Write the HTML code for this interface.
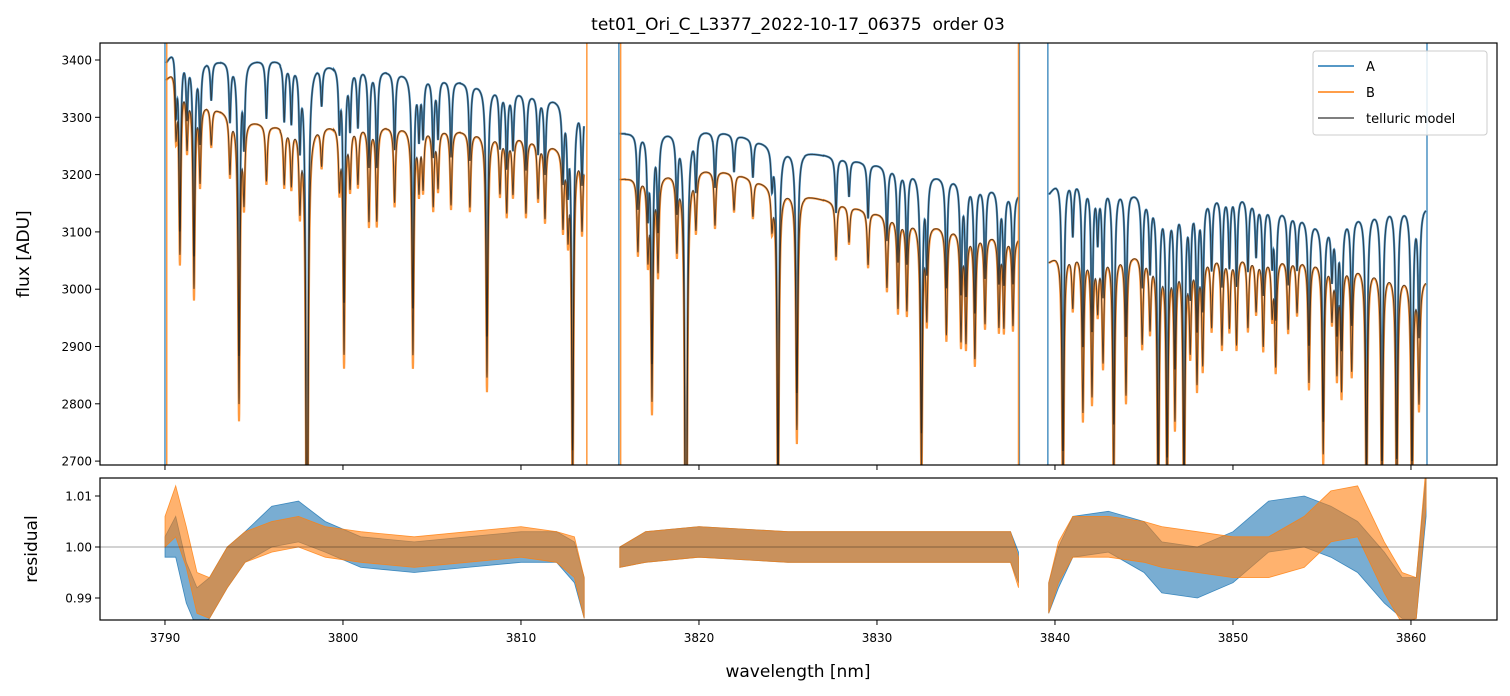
<!DOCTYPE html>
<html><head><meta charset="utf-8"><style>
html,body{margin:0;padding:0;background:#fff;width:1510px;height:696px;overflow:hidden}
svg{display:block;font-family:"DejaVu Sans","Liberation Sans",sans-serif}
</style></head><body>
<svg id="chart" width="1510" height="696" viewBox="0 0 1510 696" xmlns="http://www.w3.org/2000/svg">
<defs>
<clipPath id="cTop"><rect x="100" y="43" width="1397" height="422"/></clipPath>
<clipPath id="cBot"><rect x="100" y="478" width="1397" height="142"/></clipPath>
</defs>
<rect width="1510" height="696" fill="#fff"/>
<text x="798" y="30" font-size="17" text-anchor="middle">tet01_Ori_C_L3377_2022-10-17_06375&#160; order 03</text>
<g id="topPanel" clip-path="url(#cTop)"></g>
<g id="botPanel" clip-path="url(#cBot)"></g>
<g id="axesGroup"></g>
<text x="798" y="677" font-size="17" text-anchor="middle">wavelength [nm]</text>
<text transform="translate(29,254) rotate(-90)" font-size="17" text-anchor="middle">flux [ADU]</text>
<text transform="translate(37,549) rotate(-90)" font-size="17" text-anchor="middle">residual</text>
<g font-size="13">
<rect x="1313" y="51" width="174" height="84" rx="3" fill="#fff" fill-opacity="0.85" stroke="#ccc"/>
<line x1="1318" x2="1354" y1="66" y2="66" stroke="#1f77b4" stroke-width="1.5"/>
<text x="1366" y="71">A</text>
<line x1="1318" x2="1354" y1="92" y2="92" stroke="#ff7f0e" stroke-width="1.5"/>
<text x="1366" y="97">B</text>
<line x1="1318" x2="1354" y1="118" y2="118" stroke="#555" stroke-width="1.5"/>
<text x="1366" y="123">telluric model</text>
</g>
</svg>
<script>
// ---- data ----
const segments = [[3790.05,3813.55],[3815.55,3837.95],[3839.65,3860.85]];
const contAx = [[3790.1,3790.5,3792,3796,3800,3805,3810,3813.5],[3815.6,3820,3822,3825,3830,3835,3837.9],[3839.7,3840.3,3843,3845,3848,3850,3855,3859,3860.8]];
const contAy = [[3400,3425,3400,3400,3392,3372,3345,3322],[3272,3280,3270,3245,3218,3190,3168],[3170,3200,3185,3165,3160,3170,3115,3150,3145]];
const contBx = [[3790.1,3790.5,3792,3794,3796,3800,3805,3810,3813.5],[3815.6,3820,3822,3825,3830,3835,3837.9],[3839.7,3840.3,3845,3850,3855,3858,3860.8]];
const contBy = [[3370,3388,3328,3302,3285,3288,3282,3267,3238],[3192,3212,3202,3172,3133,3102,3092],[3050,3068,3062,3060,3052,3038,3018]];
const lineWl = [3790.62,3790.84,3791.24,3791.63,3791.97,3792.6,3793.65,3794.16,3794.44,3795.7,3796.7,3797.1,3797.58,3797.98,3798.8,3799.8,3800.06,3800.4,3800.84,3801.46,3801.9,3802.9,3803.93,3804.27,3804.5,3805.07,3805.34,3806.07,3807.13,3808.09,3808.82,3809.2,3809.55,3810.28,3810.96,3811.35,3812.36,3812.64,3812.9,3813.43,
3816.57,3817.13,3817.36,3817.7,3818.76,3819.27,3819.83,3820.9,3821.97,3823.03,3824.1,3824.44,3825.5,3827.7,3828.43,3829.5,3830.56,3831.18,3831.68,3832.5,3832.8,3833.9,3834.72,3835.0,3835.5,3836.07,3836.85,3837.13,3837.64,
3840.45,3841.0,3841.57,3842.08,3842.4,3842.7,3843.3,3843.99,3844.9,3845.34,3845.8,3846.3,3846.74,3847.25,3847.6,3847.98,3848.3,3848.8,3849.38,3849.8,3850.2,3850.84,3851.3,3851.7,3852.2,3852.4,3853.1,3853.6,3854.27,3855.07,3855.56,3855.84,3856.1,3856.67,3857.5,3858.37,3859.2,3860.06,3860.45];
const lineDepth = [0.03,0.09,0.03,0.1,0.04,0.02,0.03,0.15,0.04,0.03,0.03,0.03,0.04,0.3,0.02,0.03,0.12,0.03,0.03,0.05,0.05,0.04,0.12,0.03,0.03,0.04,0.03,0.04,0.04,0.13,0.03,0.04,0.03,0.04,0.03,0.04,0.04,0.04,0.18,0.04,
0.04,0.04,0.12,0.05,0.04,0.3,0.03,0.03,0.02,0.02,0.02,0.18,0.13,0.03,0.02,0.03,0.04,0.05,0.05,0.14,0.05,0.06,0.06,0.06,0.07,0.05,0.05,0.05,0.05,
0.15,0.03,0.09,0.08,0.03,0.06,0.13,0.08,0.05,0.04,0.15,0.14,0.09,0.15,0.05,0.07,0.06,0.04,0.05,0.04,0.05,0.04,0.03,0.05,0.03,0.06,0.04,0.03,0.07,0.11,0.03,0.06,0.07,0.06,0.14,0.14,0.14,0.14,0.07];
const edgeA = [3790.0,3815.5,3838.0,3839.6,3860.9];
const edgeB = [3790.1,3813.7,3815.6,3837.95];
const resWl = [3790,3790.6,3791.2,3791.8,3792.5,3793.5,3794.5,3796,3797.5,3799,3801,3804,3807,3810,3812,3813,3813.55,null,3815.55,3817,3820,3825,3830,3835,3837.5,3837.95,null,3839.65,3840.2,3841,3843,3845,3846,3848,3850,3852,3854,3855.5,3857,3858.5,3859.5,3860.3,3860.85];
const resAmid = [1.0,1.002,0.993,0.988,0.99,0.996,1.0,1.004,1.005,1.002,0.999,0.998,0.999,1.0,1.0,0.997,0.99,null,0.998,1.0,1.001,1.0,1.0,1.0,1.0,0.996,null,0.99,0.996,1.002,1.003,1.0,0.996,0.995,0.998,1.004,1.005,1.003,1.0,0.994,0.99,0.99,1.01];
const resAspr = [0.002,0.004,0.004,0.004,0.004,0.004,0.003,0.004,0.004,0.003,0.003,0.003,0.003,0.003,0.003,0.004,0.004,null,0.002,0.003,0.003,0.003,0.003,0.003,0.003,0.003,null,0.003,0.004,0.004,0.004,0.005,0.005,0.005,0.005,0.005,0.005,0.005,0.005,0.005,0.004,0.004,0.004];
const resBmid = [1.003,1.007,1.0,0.991,0.99,0.996,1.0,1.002,1.003,1.001,1.0,0.999,1.0,1.001,1.0,0.998,0.99,null,0.998,1.0,1.001,1.0,1.0,1.0,1.0,0.995,null,0.99,0.997,1.002,1.002,1.001,1.0,0.999,0.998,0.998,1.001,1.006,1.007,0.996,0.99,0.99,1.012];
const resBspr = [0.003,0.005,0.004,0.004,0.004,0.004,0.003,0.003,0.003,0.003,0.003,0.003,0.003,0.003,0.003,0.004,0.004,null,0.002,0.003,0.003,0.003,0.003,0.003,0.003,0.003,null,0.003,0.004,0.004,0.004,0.004,0.004,0.004,0.004,0.004,0.005,0.005,0.005,0.005,0.005,0.004,0.004];
const xTicks = [3790,3800,3810,3820,3830,3840,3850,3860];
const yTicks = [2700,2800,2900,3000,3100,3200,3300,3400];
const rTicks = [0.99,1.00,1.01];
// ---- scales ----
const X = w => 100 + (w - 3786.35) * 17.8;
const Y = f => 60 + (3400 - f) * 0.573;
const R = r => 547 - (r - 1) * 5100;
const NS = 'http://www.w3.org/2000/svg';
function mk(tag, attrs, parent){const e=document.createElementNS(NS,tag);for(const k in attrs)e.setAttribute(k,attrs[k]);parent.appendChild(e);return e;}
function interp(xs, ys, x){if(x<=xs[0])return ys[0];for(let i=1;i<xs.length;i++){if(x<=xs[i]){const t=(x-xs[i-1])/(xs[i]-xs[i-1]);return ys[i-1]+t*(ys[i]-ys[i-1]);}}return ys[ys.length-1];}
function trans(w, scale){let tau=0;const g=0.06;for(let i=0;i<lineWl.length;i++){const d=w-lineWl[i];if(Math.abs(d)>1.5)continue;tau+=-Math.log(1-Math.min(0.95,lineDepth[i]*scale))*g*g/(d*d+g*g);}return Math.exp(-tau);}
const gTop = document.getElementById('topPanel'), gBot = document.getElementById('botPanel'), gAx = document.getElementById('axesGroup');
function spectrumPath(cx, cy, scale){let d='';segments.forEach((s,si)=>{let first=true;for(let w=s[0];w<=s[1];w+=0.01){const f=interp(cx[si],cy[si],w)*trans(w,scale);d+=(first?'M':'L')+X(w).toFixed(2)+','+Y(f).toFixed(2);first=false;}});return d;}
const pA = mk('path',{d:spectrumPath(contAx,contAy,1.0),fill:'none',stroke:'#1f77b4','stroke-width':2.2,'stroke-opacity':0.8},gTop);


const pB = mk('path',{d:spectrumPath(contBx,contBy,1.06),fill:'none',stroke:'#ff7f0e','stroke-width':2.2,'stroke-opacity':0.8},gTop);


const mA = mk('path',{d:spectrumPath(contAx,contAy,1.0),fill:'none',stroke:'#222','stroke-width':1,'stroke-opacity':0.75},gTop);


const mB = mk('path',{d:spectrumPath(contBx,contBy,1.0),fill:'none',stroke:'#222','stroke-width':1,'stroke-opacity':0.75},gTop);


edgeA.forEach(w=>{const l=mk('line',{x1:X(w),x2:X(w),y1:43,y2:465,stroke:'#1f77b4','stroke-width':1.5,'stroke-opacity':0.8},gTop);

});
edgeB.forEach(w=>{const l=mk('line',{x1:X(w),x2:X(w),y1:43,y2:465,stroke:'#ff7f0e','stroke-width':1.5,'stroke-opacity':0.8},gTop);

});
function band(mid, spr, color, name){let parts=[],cur=[];resWl.forEach((w,i)=>{if(w===null){parts.push(cur);cur=[];}else cur.push(i);});parts.push(cur);
parts.forEach(idx=>{let up=idx.map(i=>X(resWl[i]).toFixed(1)+','+R(mid[i]+spr[i]).toFixed(1));let dn=idx.slice().reverse().map(i=>X(resWl[i]).toFixed(1)+','+R(mid[i]-spr[i]).toFixed(1));
const p=mk('polygon',{points:up.concat(dn).join(' '),fill:color,'fill-opacity':0.6,stroke:color,'stroke-width':0.8,'stroke-opacity':0.8},gBot);

});}
band(resAmid,resAspr,'#1f77b4','residual-a-band');
band(resBmid,resBspr,'#ff7f0e','residual-b-band');
mk('line',{x1:100,x2:1497,y1:R(1),y2:R(1),stroke:'#000','stroke-width':0.6,'stroke-opacity':0.7},gBot);
const f1=mk('rect',{x:100,y:43,width:1397,height:422,fill:'none',stroke:'#000','stroke-width':1.2},gAx);


const f2=mk('rect',{x:100,y:478,width:1397,height:142,fill:'none',stroke:'#000','stroke-width':1.2},gAx);


xTicks.forEach(t=>{const x=X(t);mk('line',{x1:x,x2:x,y1:465,y2:470,stroke:'#000'},gAx);mk('line',{x1:x,x2:x,y1:620,y2:625,stroke:'#000'},gAx);
const tx=mk('text',{x:x,y:642,'font-size':12,'text-anchor':'middle'},gAx);tx.textContent=t;

});
yTicks.forEach(t=>{const y=Y(t);mk('line',{x1:95,x2:100,y1:y,y2:y,stroke:'#000'},gAx);
const tx=mk('text',{x:92,y:y+4.5,'font-size':12,'text-anchor':'end'},gAx);tx.textContent=t;

});
rTicks.forEach(t=>{const y=R(t);mk('line',{x1:95,x2:100,y1:y,y2:y,stroke:'#000'},gAx);
const tx=mk('text',{x:92,y:y+4.5,'font-size':12,'text-anchor':'end'},gAx);tx.textContent=t.toFixed(2);

});
</script>
</body></html>
